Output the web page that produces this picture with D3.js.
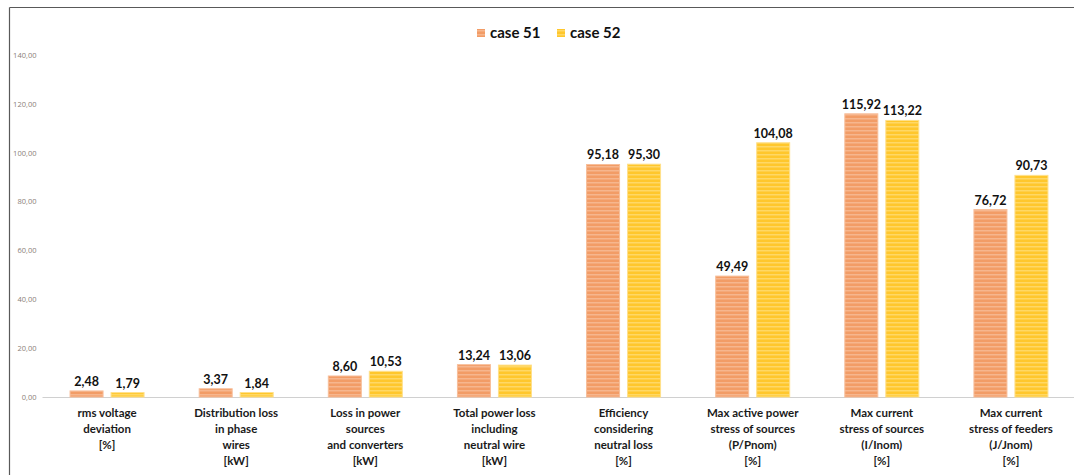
<!DOCTYPE html>
<html>
<head>
<meta charset="utf-8">
<script src="https://cdn.jsdelivr.net/npm/d3@7"></script>
<style>
  html, body { margin: 0; padding: 0; background: #fff; }
  svg { display: block; font-family: Lato, "Open Sans", sans-serif; }
</style>
</head>
<body>
<svg id="chart" width="1074" height="475"></svg>
<script>
// Categories (multi-line labels) and series values
const categories = [
  ["rms voltage", "deviation", "[%]"],
  ["Distribution loss", "in phase", "wires", "[kW]"],
  ["Loss in power", "sources", "and converters", "[kW]"],
  ["Total power loss", "including", "neutral wire", "[kW]"],
  ["Efficiency", "considering", "neutral loss", "[%]"],
  ["Max active power", "stress of sources", "(P/Pnom)", "[%]"],
  ["Max current", "stress of sources", "(I/Inom)", "[%]"],
  ["Max current", "stress of feeders", "(J/Jnom)", "[%]"]
];
const seriesNames = ["case 51", "case 52"];
const case51 = [2.48, 3.37, 8.60, 13.24, 95.18, 49.49, 115.92, 76.72];
const case52 = [1.79, 1.84, 10.53, 13.06, 95.30, 104.08, 113.22, 90.73];
const yTicks = [0, 20, 40, 60, 80, 100, 120, 140];

const svg = d3.select("#chart");
const W = 1074, H = 475;
const plot = { left: 42.5, right: 1075.5, top: 55, bottom: 397 };

// striped fills for the two series
const defs = svg.append("defs");
const fills = [
  { id: "stripe0", base: "#F29C66", light: "#F6B68E", edge: "#F7BE9A" },
  { id: "stripe1", base: "#FFC72C", light: "#FFD865", edge: "#FFE08A" }
];
fills.forEach(f => {
  const p = defs.append("pattern")
    .attr("id", f.id).attr("patternUnits", "userSpaceOnUse")
    .attr("width", 8).attr("height", 4);
  p.append("rect").attr("width", 8).attr("height", 4).attr("fill", f.base);
  p.append("rect").attr("y", 2).attr("width", 8).attr("height", 1.5).attr("fill", f.light);
});

// outer frame (top and left edges)
svg.append("line").attr("x1", 9.5).attr("x2", W).attr("y1", 7.5).attr("y2", 7.5)
  .attr("stroke", "#595959").attr("stroke-width", 1.2);
svg.append("line").attr("x1", 9.5).attr("x2", 9.5).attr("y1", 7.5).attr("y2", H)
  .attr("stroke", "#595959").attr("stroke-width", 1.2);

const x = d3.scaleBand().domain(d3.range(categories.length))
  .range([plot.left, plot.right]).paddingInner(0).paddingOuter(0);
const y = d3.scaleLinear().domain([0, 140]).range([plot.bottom, plot.top]);

// y axis labels
const yAxis = d3.axisLeft(y).tickValues(yTicks)
  .tickFormat(d => d3.format(".2f")(d).replace(".", ","))
  .tickSize(0).tickPadding(6);
const gy = svg.append("g").attr("transform", `translate(${plot.left},0)`).call(yAxis);
gy.select(".domain").remove();
gy.selectAll("text").attr("fill", "#8a8078").style("font-size", "7.5px")
  .style("font-family", "'Open Sans', sans-serif");

// category baseline
svg.append("line").attr("x1", plot.left).attr("x2", W)
  .attr("y1", y(0) + 0.5).attr("y2", y(0) + 0.5)
  .attr("stroke", "#d0d0d0").attr("stroke-width", 1);

const barW = 33, gap = 8;
const series = [case51, case52];
series.forEach((vals, si) => {
  const f = fills[si];
  const g = svg.append("g");
  const xPos = i => x(i) + x.bandwidth() / 2 + (si === 0 ? -gap / 2 - barW : gap / 2);
  g.selectAll("rect").data(vals).join("rect")
    .attr("x", (d, i) => xPos(i))
    .attr("y", d => y(d))
    .attr("width", barW)
    .attr("height", d => y(0) - y(d))
    .attr("fill", `url(#${f.id})`)
    .attr("stroke", f.edge).attr("stroke-width", 1);
  g.selectAll("text").data(vals).join("text")
    .attr("x", (d, i) => xPos(i) + barW / 2)
    .attr("y", d => y(d) - 5)
    .attr("text-anchor", "middle")
    .attr("fill", "#111")
    .style("font-size", "12.5px").style("font-weight", "bold")
    .text(d => d3.format(".2f")(d).replace(".", ","));
});

// category labels
const cl = svg.append("g");
categories.forEach((lines, i) => {
  const t = cl.append("text")
    .attr("x", x(i) + x.bandwidth() / 2)
    .attr("y", 417)
    .attr("text-anchor", "middle")
    .attr("fill", "#1a1a1a")
    .style("font-size", "11.5px").style("font-weight", "bold");
  lines.forEach((ln, k) => {
    t.append("tspan").attr("x", x(i) + x.bandwidth() / 2)
      .attr("y", 417 + k * 16).text(ln);
  });
});

// legend
const legend = svg.append("g");
const legendItems = [{ x: 477 }, { x: 557 }];
seriesNames.forEach((name, i) => {
  const lx = legendItems[i].x;
  legend.append("rect").attr("x", lx).attr("y", 29).attr("width", 8).attr("height", 8)
    .attr("fill", `url(#${fills[i].id})`);
  legend.append("text").attr("x", lx + 13).attr("y", 38)
    .attr("fill", "#111").style("font-size", "15px").style("font-weight", "bold")
    .text(name);
});
</script>
</body>
</html>
